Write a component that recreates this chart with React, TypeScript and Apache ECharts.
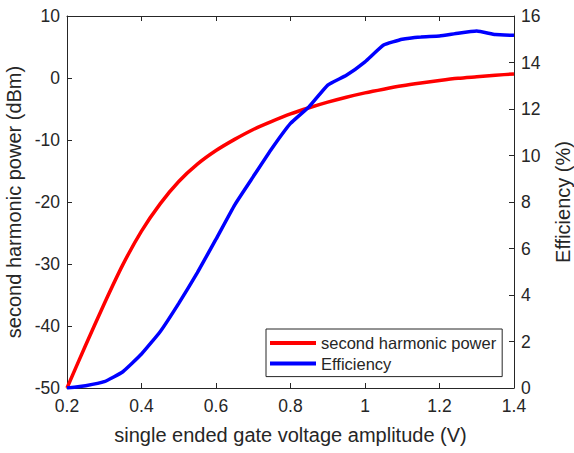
import React, { useEffect, useRef } from "react";
import * as echarts from "echarts";

const voltages = [0.2, 0.25, 0.3, 0.35, 0.4, 0.45, 0.5, 0.55, 0.6, 0.65, 0.7, 0.75, 0.8, 0.85, 0.9, 0.95, 1.0, 1.05, 1.1, 1.15, 1.2, 1.25, 1.3, 1.35, 1.4];
const secondHarmonic = [-50, -43.1, -36.4, -30.1, -24.7, -20.3, -16.7, -13.9, -11.7, -9.9, -8.3, -7.0, -5.8, -4.8, -3.9, -3.1, -2.4, -1.8, -1.25, -0.8, -0.4, -0.05, 0.2, 0.45, 0.65];
const efficiency = [0, 0.1, 0.27, 0.7, 1.46, 2.42, 3.64, 4.96, 6.4, 7.87, 9.09, 10.3, 11.38, 12.1, 13.03, 13.45, 14.03, 14.75, 15.0, 15.1, 15.14, 15.26, 15.35, 15.2, 15.17];

const xTitle = "single ended gate voltage amplitude (V)";
const yLeftTitle = "second harmonic power (dBm)";
const yRightTitle = "Efficiency (%)";
const seriesNames = ["second harmonic power", "Efficiency"];

const FONT = "'Liberation Sans', Arial, Helvetica, sans-serif";
const INK = "#262626";

export default function App() {
  const ref = useRef<HTMLDivElement>(null);
  useEffect(() => {
    if (!ref.current) return;
    const chart = echarts.init(ref.current, undefined, { renderer: "svg" });
    const axisLine = { show: true, onZero: false, lineStyle: { color: INK, width: 1 } };
    const axisTick = { show: true, inside: true, length: 5, lineStyle: { color: INK } };
    const label = { color: INK, fontSize: 17.5, fontFamily: FONT };
    const nameStyle = { color: INK, fontSize: 20, fontFamily: FONT };
    chart.setOption({
      animation: false,
      backgroundColor: "#ffffff",
      grid: { left: 67, right: 60, top: 16, bottom: 65, containLabel: false, outerBoundsMode: "none" },
      legend: {
        show: true,
        orient: "vertical",
        left: 266,
        top: 329,
        padding: [5, 6, 4, 4],
        itemGap: 2.6,
        itemWidth: 46,
        itemHeight: 4,
        icon: "rect",
        borderColor: INK,
        borderWidth: 1,
        backgroundColor: "#ffffff",
        textStyle: { color: INK, fontSize: 16.5, fontFamily: FONT, lineHeight: 18 },
        data: seriesNames,
      },
      xAxis: [
        {
          type: "value",
          min: 0.2,
          max: 1.4,
          interval: 0.2,
          position: "bottom",
          name: xTitle,
          nameLocation: "middle",
          nameGap: 37,
          nameTextStyle: nameStyle,
          axisLine,
          axisTick,
          splitLine: { show: false },
          axisLabel: { ...label, margin: 9, formatter: (v: number) => String(+v.toFixed(1)) },
        },
        {
          type: "value",
          min: 0.2,
          max: 1.4,
          interval: 0.2,
          position: "top",
          axisLine,
          axisTick,
          splitLine: { show: false },
          axisLabel: { show: false },
        },
      ],
      yAxis: [
        {
          type: "value",
          min: -50,
          max: 10,
          interval: 10,
          position: "left",
          name: yLeftTitle,
          nameLocation: "middle",
          nameGap: 40,
          nameTextStyle: nameStyle,
          axisLine,
          axisTick,
          splitLine: { show: false },
          axisLabel: { ...label, margin: 7 },
        },
        {
          type: "value",
          min: 0,
          max: 16,
          interval: 2,
          position: "right",
          name: yRightTitle,
          nameLocation: "middle",
          nameGap: 39,
          nameRotate: 90,
          nameTextStyle: nameStyle,
          axisLine,
          axisTick,
          splitLine: { show: false },
          axisLabel: { ...label, margin: 7 },
        },
      ],
      series: [
        {
          name: seriesNames[0],
          type: "line",
          xAxisIndex: 0,
          yAxisIndex: 0,
          showSymbol: false,
          symbol: "none",
          smooth: 0.25,
          color: "#ff0000",
          lineStyle: { color: "#ff0000", width: 3.5 },
          data: voltages.map((v, i) => [v, secondHarmonic[i]]),
        },
        {
          name: seriesNames[1],
          type: "line",
          xAxisIndex: 0,
          yAxisIndex: 1,
          showSymbol: false,
          symbol: "none",
          smooth: 0.12,
          color: "#0000ff",
          lineStyle: { color: "#0000ff", width: 3.5 },
          data: voltages.map((v, i) => [v, efficiency[i]]),
        },
      ],
    });
    return () => chart.dispose();
  }, []);
  return (
    <div
      ref={ref}
      style={{ position: "fixed", left: 0, top: 0, width: 574, height: 453, background: "#fff" }}
    />
  );
}
